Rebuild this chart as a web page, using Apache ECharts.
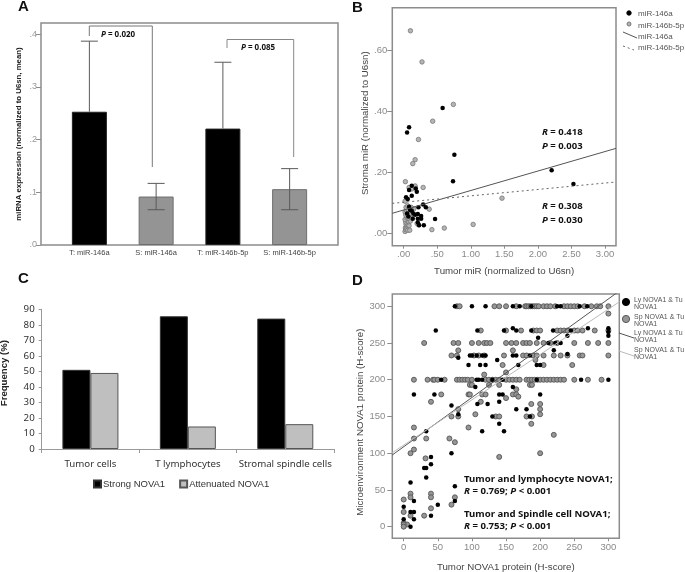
<!DOCTYPE html>
<html><head><meta charset="utf-8">
<style>html,body{margin:0;padding:0;background:#fff}#c{width:685px;height:572px}</style>
<script src="https://cdn.jsdelivr.net/npm/echarts@6/dist/echarts.min.js"></script>
</head><body><div id="c"></div>
<script>
// Panel A
const aCategories = ['T: miR-146a','S: miR-146a','T: miR-146b-5p','S: miR-146b-5p'];
const aMeans = [0.253,0.092,0.221,0.106];
const aErrLow = [0.253,0.067,0.221,0.067];
const aErrHigh = [0.387,0.117,0.347,0.145];
const aTicks = [0,0.1,0.2,0.3,0.4];
// Panel B
const bMir146a = [[.58,.41],[.08,.347],[.05,.33],[.755,.257],[.735,.17],[2.205,.206],[2.53,.161],[.467,.047],
 [.12,.156],[.18,.147],[.195,.136],[.08,.142],[.035,.118],[.06,.112],[.12,.123],[.29,.094],[.33,.085],[.22,.085],[.08,.087],[.12,.074],
 [.145,.065],[.21,.063],[.26,.057],[.26,.048],[.21,.048],[.135,.048],[.05,.065],[.07,.055],[.21,.035],[.23,.026],[.3,.026],[.095,.076],[.17,.061]];
const bMir146b = [[.1,.663],[.273,.561],[.74,.422],[.432,.367],[.22,.307],[.17,.241],[.135,.228],[.025,.169],[.29,.15],[.08,.15],[.12,.145],[.17,.155],
 [.02,.105],[1.465,.115],[.38,.079],[1.035,.029],[.605,.017],[.42,.012],[.02,.006],[.03,.012],[.025,.018],[.04,.02],[.06,.01],[.09,.01],[.05,.025],[.035,.03],[.06,.03],[.08,.025],
 [.03,.037],[.055,.04],[.075,.038],[.1,.04],[.02,.045],[.05,.05],[.07,.05],[.03,.06],[.06,.06],[.09,.06],[.02,.07],[.04,.075],[.07,.075],[.035,.085],[.06,.09],[.15,.08],[.11,.085],[.2,.032],[.22,.028],[.12,.05]];
const bFit146a = [[-.17,.0655],[3.164,.278]];
const bFit146b = [[-.17,.098],[3.164,.168]];
const bXTicks = [0,.5,1,1.5,2,2.5,3];
const bYTicks = [0,.2,.4,.6];
// Panel C
const cCategories = ['Tumor cells','T lymphocytes','Stromal spindle cells'];
const cStrong = [51,85.5,84];
const cAttenuated = [49,14.5,16];
// Panel D
const dLyPoints = [[75,300],[100,300],[120,300],[160,300],[170,300],[187,300],[225,300],[230,300],[258,300],[269,300],
 [47,267],[108,267],[147,267],[160,270],[165,267],[187,267],[219,267],[245,267],[270,270],[300,270],[300,265],[300,260],[240,260],[197,257],[212,250],[222,250],[230,250],
 [80,230],[95,220],[97,233],[100,233],[107,233],[115,233],[120,233],[137,227],[112,220],[120,220],[160,233],[168,220],[165,233],[185,233],[195,220],[200,220],[220,240],[240,235],
 [55,200],[107,200],[110,200],[115,200],[130,200],[145,200],[195,200],[260,200],[300,200],[105,190],[160,190],
 [15,180],[45,180],[140,180],[145,180],[200,180],[108,167],[123,167],[140,170],[70,165],[80,153],[165,160],[180,160],[130,150],[185,150],
 [140,140],[115,130],[147,130],[33,130],[70,100],[40,95],[30,80],[33,80],[40,85],[33,67],[75,55],[10,60],[75,35],[50,30],[15,35],[0,27],[40,15],[15,10],[10,20],[15,20],[0,10],[10,0]];
const dSpRows = [
 [300,[78,82,133,140,150,165,178,180,183,186,189,192,195,198,205,210,215,222,235,240,245,250,255,265,275,283,288,300]],
 [290,[300]],
 [267,[113,150,172,190,195,200,225,230,235,240,250,255,262,280,300]],
 [250,[30,73,80,100,110,118,122,127,150,158,165,175,180,185,195,205,215,225,250,270,285,300]],
 [240,[80,160]],
 [233,[70,78,103,110,118,147,175,180,190,195,205,220,230,240,258,262,300]],
 [227,[193]],
 [220,[145,205,247]],
 [210,[150]],
 [207,[118]],
 [200,[15,35,43,45,50,60,78,82,86,90,94,100,120,125,130,135,140,150,155,160,165,170,180,184,188,192,196,200,205,210,215,220,225,230,235,250,270,290]],
 [193,[97,100,125,140,185,188]],
 [187,[165]],
 [180,[55,95,97,115,120,160,165]],
 [177,[168]],
 [175,[150]],
 [170,[40,113]],
 [167,[187,200]],
 [160,[80,200]],
 [153,[105,200]],
 [150,[70,80,135,140,180,188]],
 [140,[187]],
 [135,[95,15]],
 [125,[220]],
 [120,[33,15,67]],
 [115,[75]],
 [105,[15]],
 [100,[10,200]],
 [95,[140]],
 [93,[32]],
 [45,[10,40]],
 [40,[10,40,75]],
 [37,[0]],
 [30,[70]],
 [25,[40]],
 [20,[0]],
 [15,[30,10]],
 [5,[0]],
 [3,[5,0]],
 [0,[0]]
];
const dSpPoints = dSpRows.flatMap(r => r[1].map(x => [x, r[0]]));
const dFitLy = [[-16.7,97.6],[316,320.7]];
const dFitSp = [[-16.7,100.7],[316,306]];
const dXTicks = [0,50,100,150,200,250,300];
const dYTicks = [0,50,100,150,200,250,300];

const sans = '"Liberation Sans", Arial, sans-serif';
const boldFont = '"Noto Sans", "DejaVu Sans", sans-serif';
const tickGray = '#8a8a8a';
const frame = {show:true, borderColor:'#8c8c8c', borderWidth:1.5, backgroundColor:'transparent'};

function valAxis(gridIndex, min, max, ticks, fmt, name, gap, tickLen, margin, extra){
  return Object.assign({
    type:'value', gridIndex, min, max, splitLine:{show:false},
    axisLine:{show:false, onZero:false},
    axisTick:{show:true, length:tickLen, customValues:ticks, lineStyle:{color:'#8c8c8c'}},
    axisLabel:{customValues:ticks, formatter:fmt, color:tickGray, fontFamily:sans, fontSize:9.5, margin},
    name, nameLocation:'middle', nameGap:gap,
    nameTextStyle:{color:'#444', fontFamily:sans, fontSize:9.7}
  }, extra||{});
}
const dot = v => v.toFixed(2).replace(/^0/,'');
const dot1 = v => v.toFixed(1).replace(/^0/,'');
const line = (name,data,xi,yi,color,type,w) => ({name,type:'line',xAxisIndex:xi,yAxisIndex:yi,data,showSymbol:false,symbol:'none',clip:true,silent:true,z:3,
  lineStyle:{color,type,width:w||1}});
const rich = (size) => ({i:{fontStyle:'italic',fontWeight:'bold',fontFamily:boldFont,fontSize:size,fill:'#111'}});
const note = (x,y,text,size) => ({type:'text',x,y,z:20,style:{text,fontFamily:boldFont,fontWeight:'bold',fontSize:size,fill:'#111',verticalAlign:'middle',rich:rich(size)}});
const letter = (x,y,text) => ({type:'text',x,y,z:20,style:{text,fontFamily:sans,fontWeight:'bold',fontSize:15,fill:'#111',verticalAlign:'middle'}});
const small = (x,y,text,size) => ({type:'text',x,y,z:20,style:{text,fontFamily:sans,fontSize:size,fill:'#555',verticalAlign:'middle'}});
const seg = (pts,color,dash) => ({type:'polyline',z:20,shape:{points:pts},style:{stroke:color,lineWidth:1,fill:null,lineDash:dash||null}});
const circle = (x,y,r,fill,stroke) => ({type:'circle',z:20,shape:{cx:x,cy:y,r},style:{fill,stroke:stroke||fill,lineWidth:1}});
const fixed = {outerBoundsMode:'none', containLabel:false};

const option = {
  animation:false, backgroundColor:'#fff',
  grid:[
    Object.assign({left:41,top:23,width:297,height:222},frame,fixed),      // A frame
    Object.assign({left:56,top:23,width:267,height:222,show:false},fixed), // A bars
    Object.assign({left:392.3,top:7.7,width:223.7,height:238},frame,fixed),// B
    Object.assign({left:41.7,top:309.3,width:292.3,height:139.7,show:false},fixed), // C
    Object.assign({left:392.3,top:294,width:227,height:244.3},frame,fixed) // D
  ],
  xAxis:[
    {type:'value',gridIndex:0,min:0,max:1,show:false},
    {type:'category',gridIndex:1,data:aCategories,axisLine:{show:false},axisTick:{show:false},
      axisLabel:{color:'#444',fontFamily:sans,fontSize:7.5,margin:4,interval:0}},
    valAxis(2,-.17,3.164,bXTicks,dot,'Tumor miR (normalized to U6sn)',21,3,4),
    {type:'category',gridIndex:3,data:cCategories,
      axisLine:{show:true,lineStyle:{color:'#999',width:1}},axisTick:{show:true,length:4,lineStyle:{color:'#999'}},
      axisLabel:{color:'#333',fontFamily:boldFont,fontSize:9.7,margin:10,interval:0}},
    valAxis(4,-16.7,316,dXTicks,v=>String(v),'Tumor NOVA1 protein (H-score)',24,3,4)
  ],
  yAxis:[
    {type:'value',gridIndex:0,min:0,max:1,show:false},
    valAxis(1,0,0.4215,aTicks,dot1,'miRNA expression (normalized to U6sn, mean)',18,5,4,{
      offset:15,
      nameTextStyle:{color:'#222',fontFamily:sans,fontSize:7.8,fontWeight:'bold'},
      axisLabel:{customValues:aTicks,formatter:dot1,color:'#999',fontFamily:sans,fontSize:9,margin:4}}),
    valAxis(2,-.0406,.7385,bYTicks,dot,'Stroma miR (normalized to U6sn)',-2,5,5,{
      nameTextStyle:{color:'#444',fontFamily:sans,fontSize:9.7,padding:[0,0,0,7]}}),
    {type:'value',gridIndex:3,min:0,max:90,interval:10,splitLine:{show:false},
      axisLine:{show:true,onZero:false,lineStyle:{color:'#999'}},axisTick:{show:true,length:3,lineStyle:{color:'#999'}},
      axisLabel:{color:'#333',fontFamily:boldFont,fontSize:9.7,margin:7},
      name:'Frequency (%)',nameLocation:'middle',nameGap:32,
      nameTextStyle:{color:'#222',fontFamily:sans,fontSize:9.6,fontWeight:'bold',padding:[0,0,0,12]}},
    valAxis(4,-15.8,316.7,dYTicks,v=>String(v),'Microenvironment NOVA1 protein (H-score)',6.5,5,7,{
      nameTextStyle:{color:'#444',fontFamily:sans,fontSize:9.7,padding:[0,12,0,0]}})
  ],
  legend:{left:88,top:474,itemWidth:7,itemHeight:7,itemGap:14,icon:'rect',
    data:['Strong NOVA1','Attenuated NOVA1'],
    textStyle:{color:'#333',fontFamily:sans,fontSize:9.5,padding:[0,0,0,-3]}},
  series:[
    {name:'A mean',type:'bar',xAxisIndex:1,yAxisIndex:1,barWidth:35,
      data:aMeans.map((v,i)=>({value:v,itemStyle:{color:i%2?'#949494':'#000',borderColor:i%2?'#6e6e6e':'#222',borderWidth:1}}))},
    {name:'A error',type:'custom',xAxisIndex:1,yAxisIndex:1,z:4,encode:{x:0,y:[1,2]},
      data:aMeans.map((v,i)=>[i,aErrLow[i],aErrHigh[i]]),
      renderItem(params,api){
        const i=api.value(0), hi=api.coord([i,api.value(2)]), lo=api.coord([i,api.value(1)]);
        const st={stroke:'#5a5a5a',lineWidth:1,fill:null}, kids=[
          {type:'line',shape:{x1:hi[0],y1:hi[1],x2:lo[0],y2:lo[1]},style:st},
          {type:'line',shape:{x1:hi[0]-8.5,y1:hi[1],x2:hi[0]+8.5,y2:hi[1]},style:st}];
        if(api.value(1)<aMeans[i]) kids.push({type:'line',shape:{x1:lo[0]-8.5,y1:lo[1],x2:lo[0]+8.5,y2:lo[1]},style:st});
        return {type:'group',children:kids};
      }},
    {name:'miR-146b-5p',type:'scatter',xAxisIndex:2,yAxisIndex:2,data:bMir146b,symbolSize:4.5,z:2,
      itemStyle:{color:'#b5b5b5',borderColor:'#777',borderWidth:.8,opacity:1}},
    {name:'miR-146a',type:'scatter',xAxisIndex:2,yAxisIndex:2,data:bMir146a,symbolSize:4.5,z:2,
      itemStyle:{color:'#000',opacity:1}},
    line('miR-146a fit',bFit146a,2,2,'#555','solid',1),
    line('miR-146b-5p fit',bFit146b,2,2,'#666',[2,3],1),
    {name:'Strong NOVA1',type:'bar',xAxisIndex:3,yAxisIndex:3,data:cStrong,barWidth:28,barGap:'0%',
      itemStyle:{color:'#000',borderColor:'#333',borderWidth:1}},
    {name:'Attenuated NOVA1',type:'bar',xAxisIndex:3,yAxisIndex:3,data:cAttenuated,barWidth:28,barGap:'0%',
      itemStyle:{color:'#bfbfbf',borderColor:'#555',borderWidth:1}},
    {name:'Sp NOVA1',type:'scatter',xAxisIndex:4,yAxisIndex:4,data:dSpPoints,symbolSize:5,z:2,
      itemStyle:{color:'#969696',borderColor:'#555',borderWidth:.9,opacity:1}},
    {name:'Ly NOVA1',type:'scatter',xAxisIndex:4,yAxisIndex:4,data:dLyPoints,symbolSize:4.5,z:2,
      itemStyle:{color:'#000',opacity:1}},
    line('Ly fit',dFitLy,4,4,'#555','solid',1),
    line('Sp fit',dFitSp,4,4,'#bbb','solid',1)
  ],
  graphic:{elements:[
    letter(18,7,'A'),letter(352,8,'B'),letter(18,279,'C'),letter(352,281,'D'),
    seg([[89.3,36],[89.3,26],[152.3,26],[152.3,167]],'#777'),
    seg([[227,48],[227,39.5],[293.7,39.5],[293.7,157]],'#888'),
    note(101,35,'{i|P} = 0.020',8),
    note(241,48,'{i|P} = 0.085',8),
    note(542,132,'{i|R} = 0.418',9.5),
    note(542,146,'{i|P} = 0.003',9.5),
    note(542,206,'{i|R} = 0.308',9.5),
    note(542,220,'{i|P} = 0.030',9.5),
    note(464,479,'Tumor and lymphocyte NOVA1;',9.6),
    note(464,491,'{i|R} = 0.769; {i|P} < 0.001',9.6),
    note(464,514,'Tumor and Spindle cell NOVA1;',9.6),
    note(464,526,'{i|R} = 0.753; {i|P} < 0.001',9.6),
    circle(629,13,2.2,'#000'),circle(629,24,2,'#b5b5b5','#777'),
    seg([[623,32],[637,38]],'#555'),seg([[623,46],[634,50]],'#666',[2,3]),
    small(638,14,'miR-146a',8),small(638,26,'miR-146b-5p',8),small(638,37,'miR-146a',8),small(638,48,'miR-146b-5p',8),
    circle(626,302,3.6,'#000'),circle(626,319,3.6,'#969696','#555'),
    seg([[619,333],[634,338]],'#555'),seg([[619,351],[634,356]],'#bbb'),
    small(634,300,'Ly NOVA1 & Tu',7),small(634,307,'NOVA1',7),
    small(634,317,'Sp NOVA1 & Tu',7),small(634,324,'NOVA1',7),
    small(634,333,'Ly NOVA1 & Tu',7),small(634,340,'NOVA1',7),
    small(634,350,'Sp NOVA1 & Tu',7),small(634,357,'NOVA1',7)
  ]}
};
echarts.init(document.getElementById('c')).setOption(option);
</script></body></html>
